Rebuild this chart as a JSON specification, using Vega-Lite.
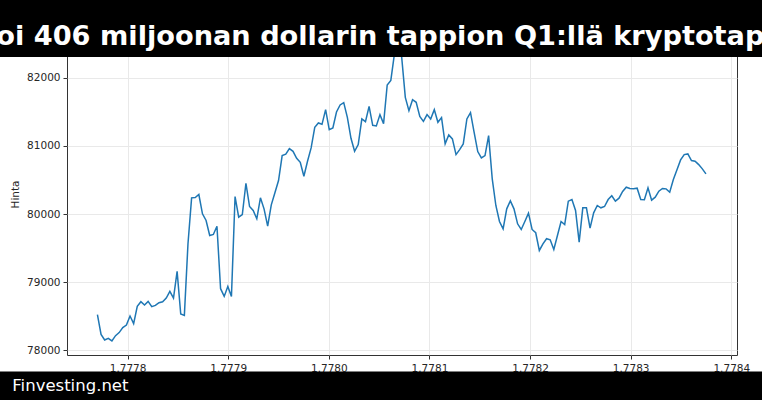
{
  "$schema": "https://vega.github.io/schema/vega-lite/v6.json",
  "width": 670,
  "height": 322,
  "autosize": {"type": "none"},
  "padding": {"left": 67, "top": 33, "right": 25, "bottom": 45},
  "background": "white",
  "config": {
    "font": "DejaVu Sans",
    "view": {"stroke": "#333333", "strokeWidth": 1},
    "axis": {
      "labelFont": "DejaVu Sans",
      "labelFontSize": 10.5,
      "labelColor": "#262626",
      "tickColor": "#333333",
      "tickSize": 4,
      "labelPadding": 3,
      "domain": false,
      "grid": true,
      "gridColor": "#e9e9e9",
      "gridWidth": 1,
      "titleFont": "DejaVu Sans",
      "titleFontSize": 10.5,
      "titleFontWeight": "normal",
      "titleColor": "#262626"
    }
  },
  "data": {
    "values": [
      {"t": 1.77777, "p": 78523}, {"t": 1.7777736, "p": 78234}, {"t": 1.7777772, "p": 78151}, {"t": 1.7777808, "p": 78176},
      {"t": 1.7777844, "p": 78137}, {"t": 1.777788, "p": 78215}, {"t": 1.7777916, "p": 78260}, {"t": 1.7777952, "p": 78333},
      {"t": 1.7777988, "p": 78371}, {"t": 1.7778024, "p": 78503}, {"t": 1.777806, "p": 78391}, {"t": 1.7778096, "p": 78645},
      {"t": 1.7778132, "p": 78713}, {"t": 1.7778168, "p": 78664}, {"t": 1.7778204, "p": 78718}, {"t": 1.777824, "p": 78640},
      {"t": 1.7778276, "p": 78659}, {"t": 1.7778312, "p": 78699}, {"t": 1.7778348, "p": 78713}, {"t": 1.7778384, "p": 78767},
      {"t": 1.777842, "p": 78864}, {"t": 1.7778456, "p": 78767}, {"t": 1.7778492, "p": 79158}, {"t": 1.7778528, "p": 78533},
      {"t": 1.7778564, "p": 78513}, {"t": 1.77786, "p": 79563}, {"t": 1.7778636, "p": 80237}, {"t": 1.7778672, "p": 80242},
      {"t": 1.7778708, "p": 80286}, {"t": 1.7778744, "p": 80002}, {"t": 1.777878, "p": 79905}, {"t": 1.7778816, "p": 79685},
      {"t": 1.7778852, "p": 79700}, {"t": 1.7778888, "p": 79821}, {"t": 1.7778924, "p": 78904}, {"t": 1.777896, "p": 78791},
      {"t": 1.7778996, "p": 78938}, {"t": 1.7779032, "p": 78791}, {"t": 1.7779068, "p": 80256}, {"t": 1.7779104, "p": 79953},
      {"t": 1.777914, "p": 79993}, {"t": 1.7779176, "p": 80451}, {"t": 1.7779212, "p": 80110}, {"t": 1.7779248, "p": 80051},
      {"t": 1.7779284, "p": 79930}, {"t": 1.777932, "p": 80237}, {"t": 1.7779356, "p": 80076}, {"t": 1.7779392, "p": 79821},
      {"t": 1.7779428, "p": 80135}, {"t": 1.7779464, "p": 80311}, {"t": 1.77795, "p": 80491}, {"t": 1.7779536, "p": 80857},
      {"t": 1.7779572, "p": 80877}, {"t": 1.7779608, "p": 80960}, {"t": 1.7779644, "p": 80920}, {"t": 1.777968, "p": 80818},
      {"t": 1.7779716, "p": 80759}, {"t": 1.7779752, "p": 80554}, {"t": 1.7779788, "p": 80774}, {"t": 1.7779824, "p": 80970},
      {"t": 1.777986, "p": 81272}, {"t": 1.7779896, "p": 81336}, {"t": 1.7779932, "p": 81316}, {"t": 1.7779968, "p": 81531},
      {"t": 1.7780004, "p": 81238}, {"t": 1.778004, "p": 81263}, {"t": 1.7780076, "p": 81497}, {"t": 1.7780112, "p": 81600},
      {"t": 1.7780148, "p": 81634}, {"t": 1.7780184, "p": 81419}, {"t": 1.778022, "p": 81111}, {"t": 1.7780256, "p": 80920},
      {"t": 1.7780292, "p": 81018}, {"t": 1.7780328, "p": 81395}, {"t": 1.7780364, "p": 81355}, {"t": 1.77804, "p": 81580},
      {"t": 1.7780436, "p": 81301}, {"t": 1.7780472, "p": 81292}, {"t": 1.7780508, "p": 81458}, {"t": 1.7780544, "p": 81326},
      {"t": 1.778058, "p": 81893}, {"t": 1.7780616, "p": 81960}, {"t": 1.7780652, "p": 82350}, {"t": 1.7780688, "p": 82450},
      {"t": 1.7780724, "p": 82300}, {"t": 1.778076, "p": 81712}, {"t": 1.7780796, "p": 81516}, {"t": 1.7780832, "p": 81678},
      {"t": 1.7780868, "p": 81639}, {"t": 1.7780904, "p": 81433}, {"t": 1.778094, "p": 81360}, {"t": 1.7780976, "p": 81458},
      {"t": 1.7781012, "p": 81395}, {"t": 1.7781048, "p": 81531}, {"t": 1.7781084, "p": 81346}, {"t": 1.778112, "p": 81414},
      {"t": 1.7781156, "p": 81029}, {"t": 1.7781192, "p": 81161}, {"t": 1.7781228, "p": 81102}, {"t": 1.7781264, "p": 80872},
      {"t": 1.77813, "p": 80945}, {"t": 1.7781336, "p": 81029}, {"t": 1.7781372, "p": 81395}, {"t": 1.7781408, "p": 81487},
      {"t": 1.7781444, "p": 81199}, {"t": 1.778148, "p": 80916}, {"t": 1.7781516, "p": 80823}, {"t": 1.7781552, "p": 80857},
      {"t": 1.7781588, "p": 81150}, {"t": 1.7781624, "p": 80516}, {"t": 1.778166, "p": 80125}, {"t": 1.7781696, "p": 79890},
      {"t": 1.7781732, "p": 79783}, {"t": 1.7781768, "p": 80076}, {"t": 1.7781804, "p": 80193}, {"t": 1.778184, "p": 80076},
      {"t": 1.7781876, "p": 79856}, {"t": 1.7781912, "p": 79773}, {"t": 1.7781948, "p": 79890}, {"t": 1.7781984, "p": 80012},
      {"t": 1.778202, "p": 79773}, {"t": 1.7782056, "p": 79725}, {"t": 1.7782092, "p": 79465}, {"t": 1.7782128, "p": 79563},
      {"t": 1.7782164, "p": 79637}, {"t": 1.77822, "p": 79622}, {"t": 1.7782236, "p": 79480}, {"t": 1.7782272, "p": 79685},
      {"t": 1.7782308, "p": 79890}, {"t": 1.7782344, "p": 79846}, {"t": 1.778238, "p": 80188}, {"t": 1.7782416, "p": 80212},
      {"t": 1.7782452, "p": 80051}, {"t": 1.7782488, "p": 79587}, {"t": 1.7782524, "p": 80091}, {"t": 1.778256, "p": 80091},
      {"t": 1.7782596, "p": 79792}, {"t": 1.7782632, "p": 80017}, {"t": 1.7782668, "p": 80125}, {"t": 1.7782704, "p": 80091},
      {"t": 1.778274, "p": 80110}, {"t": 1.7782776, "p": 80212}, {"t": 1.7782812, "p": 80267}, {"t": 1.7782848, "p": 80188},
      {"t": 1.7782884, "p": 80232}, {"t": 1.778292, "p": 80330}, {"t": 1.7782956, "p": 80393}, {"t": 1.7782992, "p": 80374},
      {"t": 1.7783028, "p": 80369}, {"t": 1.7783064, "p": 80379}, {"t": 1.77831, "p": 80212}, {"t": 1.7783136, "p": 80208},
      {"t": 1.7783172, "p": 80384}, {"t": 1.7783208, "p": 80203}, {"t": 1.7783244, "p": 80247}, {"t": 1.778328, "p": 80335},
      {"t": 1.7783316, "p": 80374}, {"t": 1.7783352, "p": 80369}, {"t": 1.7783388, "p": 80320}, {"t": 1.7783424, "p": 80505},
      {"t": 1.778346, "p": 80648}, {"t": 1.7783496, "p": 80794}, {"t": 1.7783532, "p": 80872}, {"t": 1.7783568, "p": 80882},
      {"t": 1.7783604, "p": 80784}, {"t": 1.778364, "p": 80774}, {"t": 1.7783676, "p": 80725}, {"t": 1.7783712, "p": 80662},
      {"t": 1.7783748, "p": 80589}
    ]
  },
  "layer": [
    {
      "mark": {"type": "line", "color": "#1f77b4", "strokeWidth": 1.5, "clip": true},
      "encoding": {
        "x": {
          "field": "t", "type": "quantitative",
          "scale": {"domain": [1.77773976, 1.77840566], "nice": false, "zero": false},
          "axis": {"values": [1.7778, 1.7779, 1.778, 1.7781, 1.7782, 1.7783, 1.7784], "format": ".4f", "title": null, "labelPadding": 4}
        },
        "y": {
          "field": "p", "type": "quantitative",
          "scale": {"domain": [77931, 82656], "nice": false, "zero": false},
          "axis": {"values": [78000, 79000, 80000, 81000, 82000], "format": "d", "title": "Hinta", "titlePadding": 6}
        }
      }
    },
    {
      "data": {"values": [{"bar": "top"}]},
      "mark": {"type": "rect", "color": "black", "clip": false},
      "encoding": {
        "x": {"datum": 1.7776},
        "x2": {"datum": 1.7786},
        "y": {"datum": 82304},
        "y2": {"datum": 84500}
      }
    },
    {
      "data": {"values": [{"bar": "bottom"}]},
      "mark": {"type": "rect", "color": "black", "clip": false},
      "encoding": {
        "x": {"datum": 1.7776},
        "x2": {"datum": 1.7786},
        "y": {"datum": 77689},
        "y2": {"datum": 76000}
      }
    },
    {
      "data": {"values": [{"label": "oi 406 miljoonan dollarin tappion Q1:llä kryptotap"}]},
      "mark": {"type": "text", "color": "white", "font": "DejaVu Sans", "fontWeight": "bold", "fontSize": 27.2, "align": "center", "baseline": "alphabetic", "clip": false},
      "encoding": {
        "x": {"datum": 1.7780512},
        "y": {"datum": 82480},
        "text": {"field": "label"}
      }
    },
    {
      "data": {"values": [{"label": "Finvesting.net"}]},
      "mark": {"type": "text", "color": "white", "font": "DejaVu Sans", "fontSize": 16.5, "align": "left", "baseline": "alphabetic", "clip": false},
      "encoding": {
        "x": {"datum": 1.7776854},
        "y": {"datum": 77403},
        "text": {"field": "label"}
      }
    }
  ]
}
